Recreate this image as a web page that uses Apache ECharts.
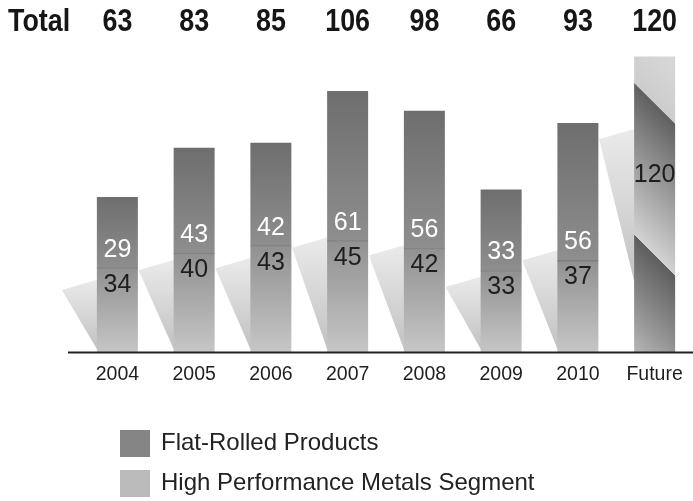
<!DOCTYPE html>
<html>
<head>
<meta charset="utf-8">
<script src="https://cdn.jsdelivr.net/npm/echarts@6/dist/echarts.min.js"></script>
<style>
html,body{margin:0;padding:0;background:#fff;}
#chart{width:693px;height:501px;}
</style>
</head>
<body>
<div id="chart"></div>
<script>
var categories = ['2004','2005','2006','2007','2008','2009','2010','Future'];
var flatRolled = [29, 43, 42, 61, 56, 33, 56, null];
var highPerf   = [34, 40, 43, 45, 42, 33, 37, null];
var future     = [null, null, null, null, null, null, null, 120];
var totals     = [63, 83, 85, 106, 98, 66, 93, 120];
var totalTitle = 'Total';

var FONT = '"Liberation Sans", Arial, Helvetica, sans-serif';
var BAR_W = 41;
var CONDENSE = 0.84;

var chart = echarts.init(document.getElementById('chart'));

function grad(stops) {
  return new echarts.graphic.LinearGradient(0, 0, 0, 1, stops);
}

var shadowData = totals.map(function (t, i) { return [i, t]; });
var dividerData = highPerf.map(function (v, i) { return v == null ? null : [i, v]; }).filter(Boolean);

var option = {
  animation: false,
  backgroundColor: '#ffffff',
  grid: { left: 79, width: 618, top: 32, bottom: 149, containLabel: false },
  xAxis: {
    type: 'category', data: categories, position: 'bottom',
    axisLine: { show: false }, axisTick: { show: false },
    axisLabel: { color: '#1e1e1e', fontFamily: FONT, fontSize: 19.5, margin: 13 }
  },
  yAxis: { type: 'value', min: 0, max: 130, show: false },
  legend: [
    {
      data: [{ name: 'Flat-Rolled Products', itemStyle: { color: '#848484' } }],
      left: 120, top: 430, itemWidth: 30, itemHeight: 27, icon: 'rect', padding: 0,
      textStyle: { fontFamily: FONT, fontSize: 24, color: '#222', padding: [0, 0, 0, 6] },
      selectedMode: false
    },
    {
      data: [{ name: 'High Performance Metals Segment', itemStyle: { color: '#bababa' } }],
      left: 120, top: 470, itemWidth: 30, itemHeight: 27, icon: 'rect', padding: 0,
      textStyle: { fontFamily: FONT, fontSize: 24, color: '#222', padding: [0, 0, 0, 6] },
      selectedMode: false
    }
  ],
  graphic: [
    {
      type: 'text', x: 8, y: 22, z: 10, scaleX: CONDENSE,
      style: { text: totalTitle, fontFamily: FONT, fontWeight: 'bold', fontSize: 32, fill: '#161616', align: 'left', verticalAlign: 'middle' }
    },
    {
      type: 'line', z: 10,
      shape: { x1: 68, y1: 352.5, x2: 693, y2: 352.5 },
      style: { stroke: '#222', lineWidth: 2 }
    }
  ],
  series: [
    {
      type: 'custom', name: 'shadow', z: 1, clip: false, silent: true,
      data: shadowData,
      renderItem: function (params, api) {
        var i = api.value(0), v = api.value(1);
        var top = api.coord([i, v]);
        var base = api.coord([i, 0]);
        var H = base[1] - top[1];
        var left = base[0] - BAR_W / 2;
        var right = base[0] + BAR_W / 2;
        var isFuture = (i === categories.length - 1);
        var bottomY = isFuture ? base[1] - 0.24 * H : base[1] - 3;
        var topY = isFuture ? base[1] - 0.72 * H : base[1] - 0.4 * H;
        var dx = 35;
        var pts = [
          [left, bottomY],
          [left - dx, topY],
          [right - dx, topY - 12],
          [right, bottomY - 12]
        ];
        return {
          type: 'polygon',
          shape: { points: pts },
          style: {
            fill: new echarts.graphic.LinearGradient(0, 0, 0, 1, [
              { offset: 0, color: '#ebebeb' },
              { offset: 1, color: '#c2c2c2' }
            ])
          }
        };
      }
    },
    {
      type: 'custom', name: 'totals', z: 5, clip: false, silent: true,
      data: shadowData,
      renderItem: function (params, api) {
        var i = api.value(0);
        var base = api.coord([i, 0]);
        return {
          type: 'text', x: base[0], y: 22, scaleX: CONDENSE,
          style: {
            text: String(totals[i]), fontFamily: FONT, fontWeight: 'bold', fontSize: 32,
            fill: '#161616', align: 'center', verticalAlign: 'middle'
          }
        };
      }
    },
    {
      type: 'bar', name: 'High Performance Metals Segment', stack: 'total', z: 2,
      barWidth: BAR_W, data: highPerf,
      itemStyle: { color: grad([{ offset: 0, color: '#919191' }, { offset: 1, color: '#c6c6c6' }]) },
      label: {
        show: true, position: 'insideTop', distance: 4,
        color: '#1e1e1e', fontFamily: FONT, fontSize: 25
      }
    },
    {
      type: 'bar', name: 'Flat-Rolled Products', stack: 'total', z: 2,
      barWidth: BAR_W, data: flatRolled,
      itemStyle: { color: grad([{ offset: 0, color: '#6e6e6e' }, { offset: 1, color: '#8e8e8e' }]) },
      label: {
        show: true, position: 'insideBottom', distance: 6,
        color: '#ffffff', fontFamily: FONT, fontSize: 25
      }
    },
    {
      type: 'bar', name: 'Future', stack: 'total', z: 2,
      barWidth: BAR_W, data: future,
      itemStyle: {
        color: new echarts.graphic.LinearGradient(1, 0, -3.1, 0.57, [
          { offset: 0, color: '#d8d8d8' },
          { offset: 0.2, color: '#cdcdcd' },
          { offset: 0.201, color: '#606060' },
          { offset: 0.45, color: '#a0a0a0' },
          { offset: 0.651, color: '#d2d2d2' },
          { offset: 0.652, color: '#5e5e5e' },
          { offset: 0.85, color: '#8e8e8e' },
          { offset: 1, color: '#b6b6b6' }
        ])
      },
      label: {
        show: true, position: ['50%', '40%'], align: 'center', verticalAlign: 'middle',
        color: '#1e1e1e', fontFamily: FONT, fontSize: 25
      }
    },
    {
      type: 'custom', name: 'divider', z: 3, clip: false, silent: true,
      data: dividerData,
      renderItem: function (params, api) {
        var p = api.coord([api.value(0), api.value(1)]);
        return {
          type: 'line',
          shape: { x1: p[0] - BAR_W / 2, y1: p[1], x2: p[0] + BAR_W / 2, y2: p[1] },
          style: { stroke: 'rgba(90,90,90,0.5)', lineWidth: 1 }
        };
      }
    }
  ]
};
chart.setOption(option);
</script>
</body>
</html>
